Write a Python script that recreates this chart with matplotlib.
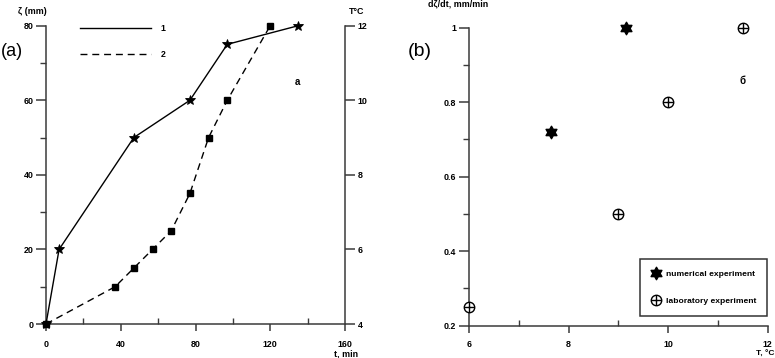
import numpy as np
import matplotlib
matplotlib.use("Agg")
import matplotlib.pyplot as plt
from matplotlib.path import Path
from matplotlib.lines import Line2D
from matplotlib.legend_handler import HandlerTuple

plt.rcParams['font.family'] = ['Liberation Sans', 'DejaVu Sans']

# ---- data: panel (a) ----
t_depth = [0, 7, 47, 77, 97, 135]          # min
depth = [0, 20, 50, 60, 75, 80]            # mm (curve 1)
t_temp = [0, 37, 47, 57, 67, 77, 87, 97, 120]
temp = [4, 5, 5.5, 6, 6.5, 7.5, 9, 10, 12]  # °C (curve 2)
depth_ticks = [0, 20, 40, 60, 80]
time_ticks = [0, 40, 80, 120, 160]
temp_ticks = [4, 6, 8, 10, 12]

# ---- data: panel (b) ----
num_T = [7.65, 9.15]
num_rate = [0.72, 1.0]
lab_T = [6, 9, 10, 11.5]
lab_rate = [0.25, 0.5, 0.8, 1.0]
T_ticks = [6, 8, 10, 12]
rate_ticks = [0.2, 0.4, 0.6, 0.8, 1.0]
rate_labels = ['0.2', '0.4', '0.6', '0.8', '1']

W, H = 775, 358
fig = plt.figure(figsize=(W / 100, H / 100), dpi=100)

spine_c = '#3a3a3a'
fs = 6.4


def style_axes(ax, xpad=6.5):
    for s in ['top', 'right']:
        ax.spines[s].set_visible(False)
    for s in ['left', 'bottom']:
        ax.spines[s].set_color(spine_c)
        ax.spines[s].set_linewidth(1.1)
    ax.tick_params(axis='y', which='major', direction='out', length=7, width=1.1,
                   color=spine_c, labelsize=fs, pad=2)
    ax.tick_params(axis='y', which='minor', direction='out', length=4.5, width=1.0,
                   color=spine_c)
    ax.tick_params(axis='x', which='major', direction='out', length=5, width=1.1,
                   color=spine_c, labelsize=fs, pad=xpad)
    ax.tick_params(axis='x', which='minor', direction='in', length=4, width=1.0,
                   color=spine_c)
    for lab in ax.get_xticklabels() + ax.get_yticklabels():
        lab.set_fontweight('bold')


# ================= panel (a) =================
ax1 = fig.add_axes([46 / W, (H - 324) / H, 299 / W, 298.3 / H])
ax1.set_xlim(0, 160)
ax1.set_ylim(0, 80)
ax1.set_xticks(time_ticks)
ax1.set_xticks([20, 60, 100, 140], minor=True)
ax1.set_yticks(depth_ticks)
ax1.set_yticks([10, 30, 50, 70], minor=True)
style_axes(ax1)

l1, = ax1.plot(t_depth, depth, color='black', lw=1.0, marker='*', ms=7.5,
               mec='black', mfc='black', mew=0.6, clip_on=False, zorder=3)

ax1b = ax1.twinx()
ax1b.set_ylim(4, 12)
ax1b.set_yticks(temp_ticks)
for s in ['top', 'left', 'bottom']:
    ax1b.spines[s].set_visible(False)
ax1b.spines['right'].set_color(spine_c)
ax1b.spines['right'].set_linewidth(1.1)
ax1b.tick_params(axis='y', direction='out', length=7, width=1.1, color=spine_c,
                 labelsize=fs, pad=2)
for lab in ax1b.get_yticklabels():
    lab.set_fontweight('bold')
l2, = ax1b.plot(t_temp, temp, color='black', lw=1.0, ls=(0, (5, 3.5)),
                marker='s', ms=5, mfc='black', mec='black', clip_on=False, zorder=3)

leg1 = ax1b.legend([Line2D([], [], color='black', lw=1.0),
                    Line2D([], [], color='black', lw=1.0, ls=(0, (5, 3.5)))],
                   ['1', '2'], loc='upper left', bbox_to_anchor=(80 / W, 1 - 24 / H),
                   bbox_transform=fig.transFigure, frameon=False, borderpad=0,
                   borderaxespad=0, handlelength=8.0, handletextpad=1.1,
                   labelspacing=1.9, prop={'size': fs, 'weight': 'bold'})

fig.text(297 / W, 1 - 82 / H, 'a', fontsize=7, fontweight='bold', ha='center', va='center')
fig.text(1 / W, 1 - 52 / H, '(a)', fontsize=13, ha='left', va='center')
fig.text(18 / W, 1 - 11 / H, 'ζ (mm)', fontsize=fs, fontweight='bold', ha='left', va='center')
fig.text(357 / W, 1 - 11 / H, 'T°C', fontsize=fs, fontweight='bold', ha='center', va='center')
fig.text(346 / W, 1 - 354 / H, 't, min', fontsize=fs, fontweight='bold', ha='center', va='center')

# ================= panel (b) =================
ax2 = fig.add_axes([469 / W, (H - 325.7) / H, 298.7 / W, 298 / H])
ax2.set_xlim(6, 12)
ax2.set_ylim(0.2, 1.0)
ax2.set_xticks(T_ticks)
ax2.set_xticks([7, 9, 11], minor=True)
ax2.set_yticks(rate_ticks)
ax2.set_yticklabels(rate_labels)
ax2.set_yticks([0.3, 0.5, 0.7, 0.9], minor=True)
style_axes(ax2, xpad=5)

ang = np.deg2rad(90 + 30 * np.arange(12))
rad = np.where(np.arange(12) % 2 == 0, 1.0, 0.577)
verts = np.column_stack([rad * np.cos(ang), rad * np.sin(ang)])
verts = np.vstack([verts, verts[:1]])
hexagram = Path(verts, [Path.MOVETO] + [Path.LINETO] * 11 + [Path.CLOSEPOLY])

h_num, = ax2.plot(num_T, num_rate, ls='none', marker=hexagram, ms=9,
                  mfc='black', mec='black', clip_on=False, zorder=3)
h_lab_o, = ax2.plot(lab_T, lab_rate, ls='none', marker='o', ms=7.5, mfc='white',
                    mec='black', mew=1.0, clip_on=False, zorder=3)
h_lab_p, = ax2.plot(lab_T, lab_rate, ls='none', marker='+', ms=7.5, mec='black',
                    mew=1.0, clip_on=False, zorder=4)

leg2 = ax2.legend([h_num, (h_lab_o, h_lab_p)],
                  ['numerical experiment', 'laboratory experiment'],
                  handler_map={tuple: HandlerTuple(ndivide=1, pad=0)},
                  loc='lower right', bbox_to_anchor=(767 / W, (H - 316) / H),
                  bbox_transform=fig.transFigure, borderaxespad=0, borderpad=1.3,
                  handlelength=1.2, handletextpad=0.55, labelspacing=2.3,
                  fancybox=False, prop={'size': 6.1, 'weight': 'bold'})
leg2.get_frame().set_edgecolor('black')
leg2.get_frame().set_linewidth(1.1)

fig.text(742 / W, 1 - 81 / H, 'б', fontsize=7, fontweight='bold', ha='center', va='center')
fig.text(420 / W, 1 - 52 / H, '(b)', fontsize=14, ha='center', va='center')
fig.text(458 / W, 1 - 4 / H, 'dζ/dt, mm/min', fontsize=fs, fontweight='bold', ha='center', va='center')
fig.text(774 / W, 0, 'T, °C', fontsize=6, fontweight='bold', ha='right', va='bottom')

fig.savefig('out.png', dpi=100)
